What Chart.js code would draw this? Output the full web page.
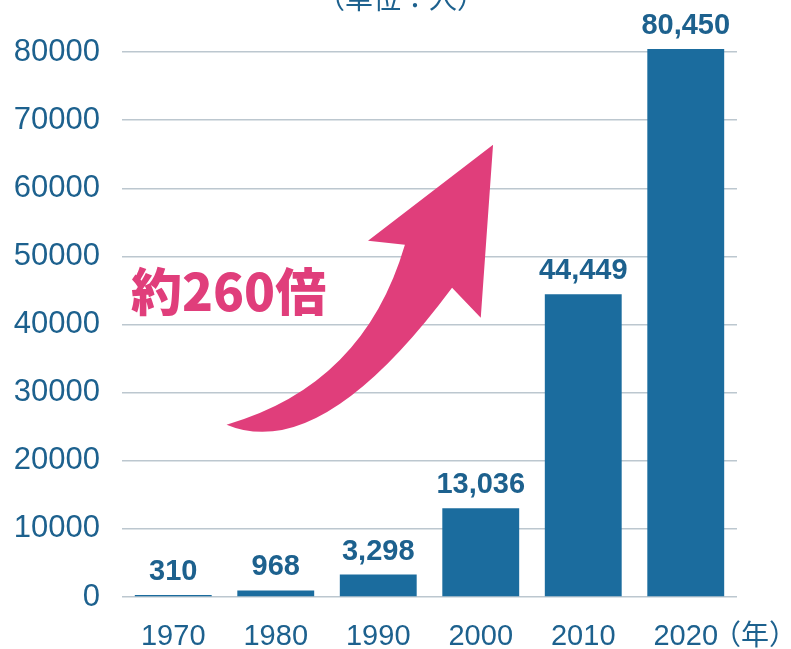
<!DOCTYPE html>
<html>
<head>
<meta charset="utf-8">
<script src="https://cdn.jsdelivr.net/npm/chart.js@4"></script>
<style>
  html, body { margin: 0; padding: 0; background: #fff; }
  #wrap { width: 791px; height: 649px; }
</style>
</head>
<body>
<div id="wrap"><canvas id="myChart" width="791" height="649"></canvas></div>
<script>
// data
const years = ["1970", "1980", "1990", "2000", "2010", "2020"];
const people = [310, 968, 3298, 13036, 44449, 80450];
const yTicks = [0, 10000, 20000, 30000, 40000, 50000, 60000, 70000, 80000];

const unitText = "（単位：人）";
const yearUnit = "（年）";
const growthText = "約260倍";

// arrow outline in chart coords: [category index, value]
const arrowTail = [0.52, 25300];
const arrowTopCtrl = [1.86, 31100];
const arrowNeckL = [2.26, 51700];
const arrowBarbL = [1.90, 52300];
const arrowTip = [3.12, 66400];
const arrowBarbR = [3.00, 41000];
const arrowNeckR = [2.72, 45400];
const arrowBotCtrl = [1.44, 19500];

const blue = "#1b6c9e";
const textBlue = "#1d618e";
const pink = "#e03e7b";

const extras = {
    id: "extras",
    afterDatasetsDraw(chart) {
        const c = chart.ctx;
        const xs = chart.scales.x, ys = chart.scales.y;
        const P = p => [xs.getPixelForValue(p[0]), ys.getPixelForValue(p[1])];

        // value labels over bars
        const meta = chart.getDatasetMeta(0);
        c.save();
        c.fillStyle = textBlue;
        c.font = "bold 29px 'Liberation Sans', Arial, sans-serif";
        c.textAlign = "center";
        c.textBaseline = "alphabetic";
        meta.data.forEach((bar, i) => {
            c.fillText(people[i].toLocaleString("en-US"), bar.x, bar.y - 15);
        });
        c.restore();

        // arrow
        c.save();
        c.fillStyle = pink;
        c.beginPath();
        let p = P(arrowTail); c.moveTo(p[0], p[1]);
        let q = P(arrowTopCtrl); p = P(arrowNeckL);
        c.quadraticCurveTo(q[0], q[1], p[0], p[1]);
        p = P(arrowBarbL); c.lineTo(p[0], p[1]);
        p = P(arrowTip); c.lineTo(p[0], p[1]);
        p = P(arrowBarbR); c.lineTo(p[0], p[1]);
        p = P(arrowNeckR); c.lineTo(p[0], p[1]);
        q = P(arrowBotCtrl); p = P(arrowTail);
        c.quadraticCurveTo(q[0], q[1], p[0], p[1]);
        c.closePath();
        c.fill();

        // 約260倍
        c.font = "900 51px 'Noto Sans CJK JP', sans-serif";
        c.textAlign = "left";
        c.textBaseline = "middle";
        c.fillText(growthText, 131, 292);
        c.restore();

        // units
        c.save();
        c.fillStyle = textBlue;
        c.font = "28px 'Noto Sans CJK JP', sans-serif";
        c.textAlign = "center";
        c.textBaseline = "alphabetic";
        c.fillText(unitText, 401, 9);
        c.font = "28px 'Noto Sans CJK JP', sans-serif";
        c.textBaseline = "middle";
        c.fillText(yearUnit, 755, 634);
        c.restore();
    }
};

new Chart(document.getElementById("myChart"), {
    type: "bar",
    data: {
        labels: years,
        datasets: [{
            data: people,
            backgroundColor: blue,
            borderWidth: 0,
            barPercentage: 0.75,
            categoryPercentage: 1.0,
            clip: false
        }]
    },
    options: {
        responsive: false,
        animation: false,
        layout: { padding: { top: 52, right: 54, left: 0, bottom: 0 } },
        plugins: { legend: { display: false }, tooltip: { enabled: false } },
        scales: {
            x: {
                grid: { display: false },
                border: { display: false },
                ticks: {
                    color: textBlue,
                    font: { family: "'Liberation Sans', Arial, sans-serif", size: 29 },
                    padding: 15
                },
                afterFit: s => { s.height = 52; }
            },
            y: {
                min: 0,
                max: 80000,
                afterBuildTicks: s => { s.ticks = yTicks.map(v => ({ value: v })); },
                grid: { color: "#bcc7cf", lineWidth: 1.5, drawTicks: false },
                border: { display: false },
                ticks: {
                    color: textBlue,
                    font: { family: "'Liberation Sans', Arial, sans-serif", size: 31 },
                    padding: 22,
                    callback: v => String(v)
                },
                afterFit: s => { s.width = 122; }
            }
        }
    },
    plugins: [extras]
});
</script>
</body>
</html>
